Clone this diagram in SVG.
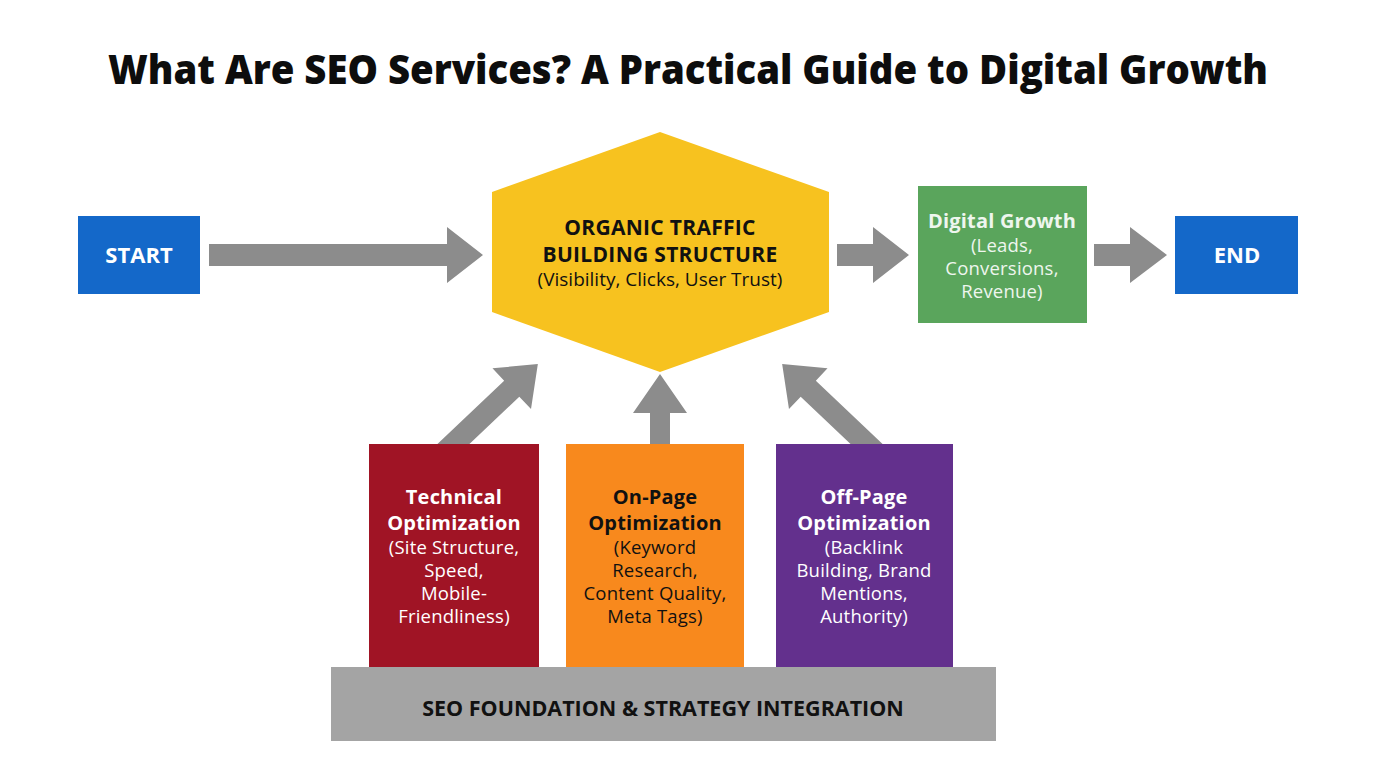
<svg xmlns="http://www.w3.org/2000/svg" width="1376" height="768" viewBox="0 0 1376 768">
<style>
.t{font-family:"Open Sans","Liberation Sans",sans-serif;text-anchor:middle}
.hb{font-size:20px;font-weight:700;letter-spacing:0.2px}
.rs{font-size:18.5px;letter-spacing:0.2px}
.w{fill:#ffffff}
.k{fill:#111111}
.g{fill:#eef6ee}
.arr{fill:#8c8c8c}
</style>
<rect width="1376" height="768" fill="#ffffff"/>
<text class="t" x="688" y="84" font-size="40" font-weight="800" fill="#0d0d0d" textLength="1160" lengthAdjust="spacingAndGlyphs">What Are SEO Services? A Practical Guide to Digital Growth</text>
<g id="connectors">
<polygon class="arr" points="209,244 447,244 447,227 483,255 447,283 447,266 209,266"/>
<polygon class="arr" points="837,244 873,244 873,227 909,255 873,283 873,266 837,266"/>
<polygon class="arr" points="1094,244 1130,244 1130,227 1167,255 1130,283 1130,266 1094,266"/>
<polygon class="arr" points="650,450 650,413 633,413 660,374 687,413 670,413 670,450"/>
<g transform="translate(445,452) rotate(-43.5)"><polygon class="arr" points="0,-11 92,-11 92,-28 128,0 92,28 92,11 0,11"/></g>
<g transform="translate(875,452) rotate(-136.5)"><polygon class="arr" points="0,-11 92,-11 92,-28 128,0 92,28 92,11 0,11"/></g>
</g>
<g id="start">
<rect x="78" y="216" width="122" height="78" fill="#1468c9"/>
<text class="t w" x="139" y="263" font-size="22" font-weight="700">START</text>
</g>
<g id="hub">
<polygon points="660,132 829,192 829,312 660,372 492,312 492,192" fill="#f7c21f"/>
<text class="t k" x="660" y="235" font-size="21" font-weight="700" letter-spacing="0.3">ORGANIC TRAFFIC</text>
<text class="t k" x="660" y="262" font-size="21" font-weight="700" letter-spacing="0.3">BUILDING STRUCTURE</text>
<text class="t k" x="660" y="286" font-size="19">(Visibility, Clicks, User Trust)</text>
</g>
<g id="growth">
<rect x="918" y="186" width="169" height="137" fill="#5aa55c"/>
<text class="t hb g" x="1002" y="228">Digital Growth</text>
<text class="t rs g" x="1002" y="252">(Leads,</text>
<text class="t rs g" x="1002" y="275">Conversions,</text>
<text class="t rs g" x="1002" y="298">Revenue)</text>
</g>
<g id="end">
<rect x="1175" y="216" width="123" height="78" fill="#1468c9"/>
<text class="t w" x="1237" y="263" font-size="22" font-weight="700">END</text>
</g>
<g id="technical">
<rect x="369" y="444" width="170" height="223" fill="#a01425"/>
<text class="t hb w" x="454" y="504">Technical</text>
<text class="t hb w" x="454" y="530">Optimization</text>
<text class="t rs w" x="454" y="554">(Site Structure,</text>
<text class="t rs w" x="454" y="577">Speed,</text>
<text class="t rs w" x="454" y="600">Mobile-</text>
<text class="t rs w" x="454" y="623">Friendliness)</text>
</g>
<g id="onpage">
<rect x="566" y="444" width="178" height="223" fill="#f8891d"/>
<text class="t hb k" x="655" y="504">On-Page</text>
<text class="t hb k" x="655" y="530">Optimization</text>
<text class="t rs k" x="655" y="554">(Keyword</text>
<text class="t rs k" x="655" y="577">Research,</text>
<text class="t rs k" x="655" y="600">Content Quality,</text>
<text class="t rs k" x="655" y="623">Meta Tags)</text>
</g>
<g id="offpage">
<rect x="776" y="444" width="177" height="223" fill="#63308d"/>
<text class="t hb w" x="864" y="504">Off-Page</text>
<text class="t hb w" x="864" y="530">Optimization</text>
<text class="t rs w" x="864" y="554">(Backlink</text>
<text class="t rs w" x="864" y="577">Building, Brand</text>
<text class="t rs w" x="864" y="600">Mentions,</text>
<text class="t rs w" x="864" y="623">Authority)</text>
</g>
<g id="foundation">
<rect x="331" y="667" width="665" height="74" fill="#a4a4a4"/>
<text class="t k" x="663" y="716" font-size="21.5" font-weight="700">SEO FOUNDATION &amp; STRATEGY INTEGRATION</text>
</g>
</svg>
